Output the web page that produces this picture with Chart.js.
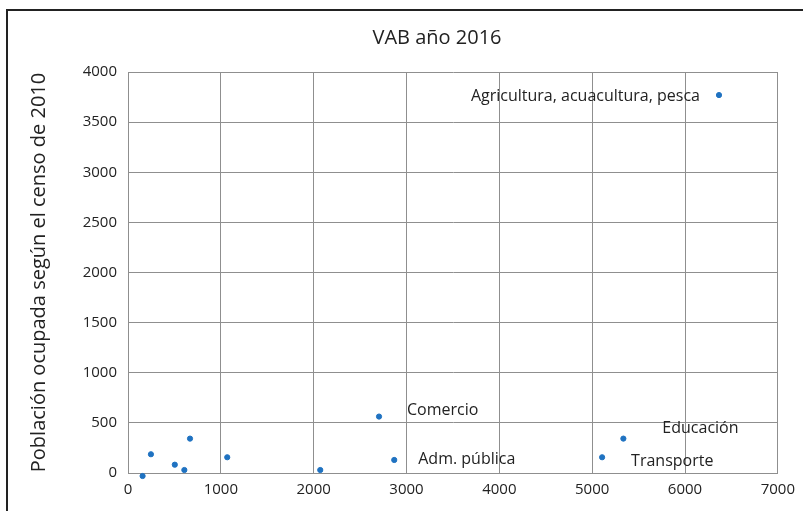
<!DOCTYPE html>
<html>
<head>
<meta charset="utf-8">
<script src="https://cdn.jsdelivr.net/npm/chart.js@4"></script>
<style>
  html, body { margin: 0; padding: 0; background: #fff; overflow: hidden; }
  #frame { position: absolute; left: 6px; top: 9px; width: 900px; height: 600px; border: 2px solid #222; }
  #wrap { position: absolute; left: 8px; top: 11px; width: 795px; height: 500px; }
</style>
</head>
<body>
<div id="frame"></div>
<div id="wrap"><canvas id="chart"></canvas></div>
<script>
const xValues = [157, 247, 504, 607, 668, 1069, 2071, 2704, 2868, 5107, 5336, 6366];
const yValues = [-30, 187, 83, 30, 343, 157, 30, 563, 130, 157, 343, 3770];
const pointLabels = ['', '', '', '', '', '', '', 'Comercio', 'Adm. pública', 'Transporte', 'Educación', 'Agricultura, acuacultura, pesca'];

const chartTitle = 'VAB año 2016';
const yTitle = 'Población ocupada según el censo de 2010';

// where each label sits relative to its point, in pixels
const labelPlacement = {
  'Comercio': { dx: 28, dy: -6, align: 'left' },
  'Adm. pública': { dx: 24, dy: -1, align: 'left' },
  'Transporte': { dx: 29, dy: 4, align: 'left' },
  'Educación': { dx: 39, dy: -10, align: 'left' },
  'Agricultura, acuacultura, pesca': { dx: -19, dy: 1, align: 'right' }
};

const FONT = '"Open Sans", "Noto Sans", sans-serif';

const extras = {
  id: 'extras',
  afterDatasetsDraw(chart) {
    const ctx = chart.ctx;
    const meta = chart.getDatasetMeta(0);
    ctx.save();
    ctx.fillStyle = '#222';
    ctx.font = '16px ' + FONT;
    ctx.textBaseline = 'middle';
    meta.data.forEach((pt, i) => {
      const name = pointLabels[i];
      if (!name) return;
      const p = labelPlacement[name];
      ctx.textAlign = p.align;
      ctx.fillText(name, pt.x + p.dx, pt.y + p.dy);
    });
    ctx.font = '20px ' + FONT;
    ctx.textAlign = 'center';
    ctx.fillText(chartTitle, 429, 27);
    ctx.restore();
  }
};

new Chart(document.getElementById('chart'), {
  type: 'scatter',
  data: {
    datasets: [{
      data: xValues.map((x, i) => ({ x: x, y: yValues[i] })),
      backgroundColor: '#1f72c1',
      borderColor: '#1f72c1',
      pointRadius: 2.6,
      pointHoverRadius: 2.6,
      clip: false
    }]
  },
  options: {
    responsive: true,
    maintainAspectRatio: false,
    animation: false,
    layout: { padding: { top: 61, right: 23, bottom: 4, left: 0 } },
    plugins: {
      legend: { display: false },
      tooltip: { enabled: false },
      title: { display: false }
    },
    scales: {
      x: {
        type: 'linear',
        min: 0,
        max: 7000,
        ticks: { stepSize: 1000, color: '#222', font: { family: FONT, size: 15 }, padding: 8, maxRotation: 0, callback: v => String(v) },
        grid: { color: '#8f8f8f', drawTicks: false },
        border: { color: '#8f8f8f' }
      },
      y: {
        min: 0,
        max: 4000,
        ticks: { stepSize: 500, color: '#222', font: { family: FONT, size: 15 }, padding: 11, callback: v => String(v) },
        grid: { color: '#8f8f8f', drawTicks: false },
        border: { color: '#8f8f8f' },
        title: { display: true, text: yTitle, color: '#222', font: { family: FONT, size: 20 }, padding: { top: 19, bottom: 0 } },
        afterFit(scale) { scale.width = 120; }
      }
    }
  },
  plugins: [extras]
});
</script>
</body>
</html>
